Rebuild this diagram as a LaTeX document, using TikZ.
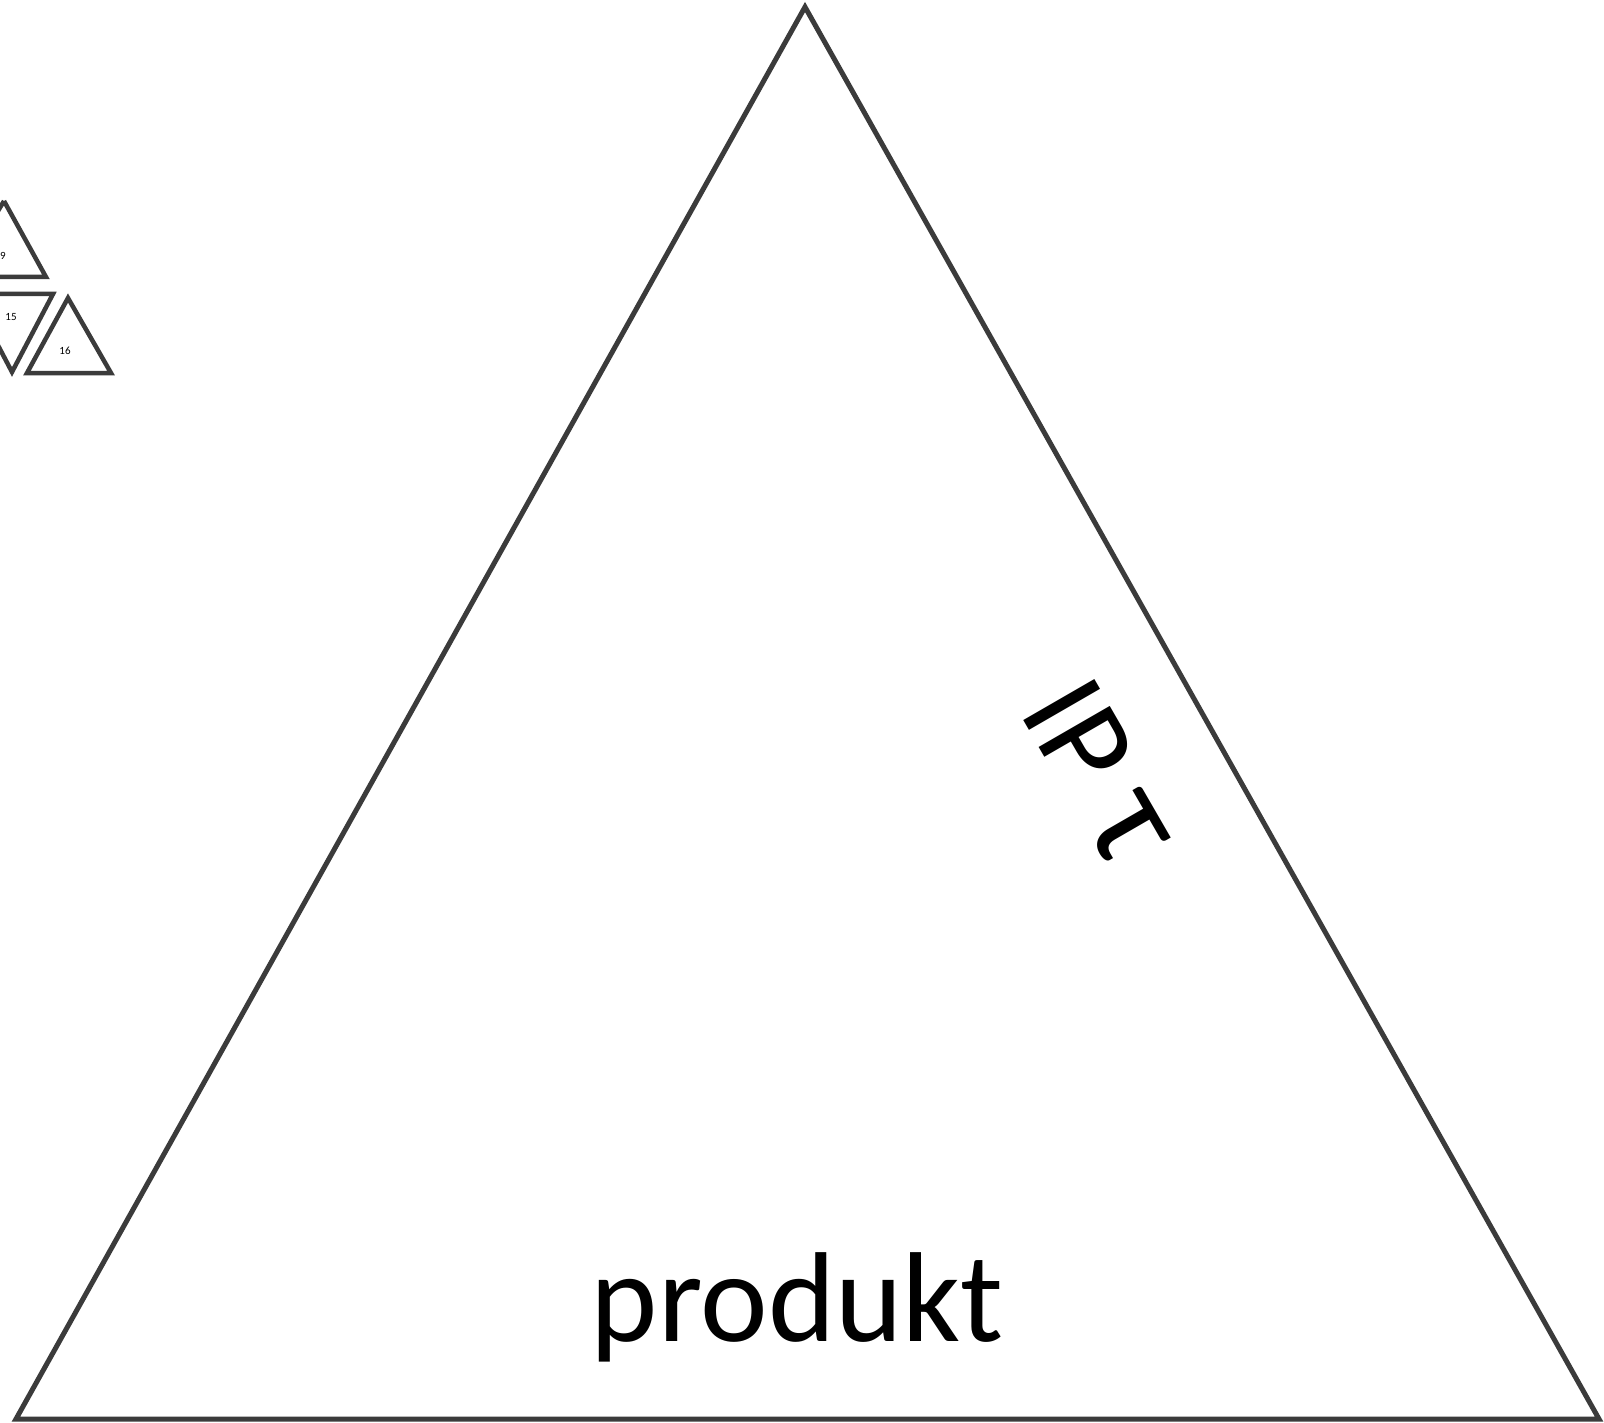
\documentclass[tikz,border=0pt]{standalone}
\usepackage{fontspec}
\setmainfont{Carlito}
\definecolor{edge}{RGB}{59,59,59}
\begin{document}
\begin{tikzpicture}[x=1pt,y=-1pt,
  bigtri/.style={draw=edge,line width=5pt,line join=miter},
  smalltri/.style={draw=edge,line width=4.5pt,line join=miter},
  smalllabel/.style={font=\fontsize{11}{13}\selectfont,text=black,inner sep=0pt},
  biglabel/.style={font=\fontsize{128}{132}\selectfont,text=black,inner sep=0pt}]
\useasboundingbox[fill=white] (0,0) rectangle (1604,1423);
% big triangle
\coordinate (A) at (805,7);
\coordinate (L) at (16,1419);
\coordinate (R) at (1599,1419);
\draw[bigtri] (A) -- (R) -- (L) -- cycle;
\node[biglabel,anchor=base] (prod) at (797,1341) {produkt};
\node[biglabel,anchor=base west,rotate=-60] (side) at (1018,711) {IP\hspace{0.24em}{\fontsize{146}{150}\selectfont τ}};
% small triangles
\coordinate (t9a) at (4,201);
\coordinate (t9l) at (-42,277);
\coordinate (t9r) at (46,277);
\draw[smalltri] (t9a) -- (t9r) -- (t9l);
\draw[smalltri] (t9a) -- (t9l);
\node[smalllabel] (n9) at (3,256) {9};
\coordinate (t15b) at (12,372);
\coordinate (t15l) at (-29,294);
\coordinate (t15r) at (53,294);
\draw[smalltri] (t15l) -- (t15r) -- (t15b) -- (t15l);
\node[smalllabel] (n15) at (11,317) {15};
\coordinate (t16a) at (68,298);
\coordinate (t16l) at (27,373);
\coordinate (t16r) at (111,373);
\draw[smalltri] (t16a) -- (t16r) -- (t16l) -- cycle;
\node[smalllabel] (n16) at (65,351) {16};
\end{tikzpicture}
\end{document}
